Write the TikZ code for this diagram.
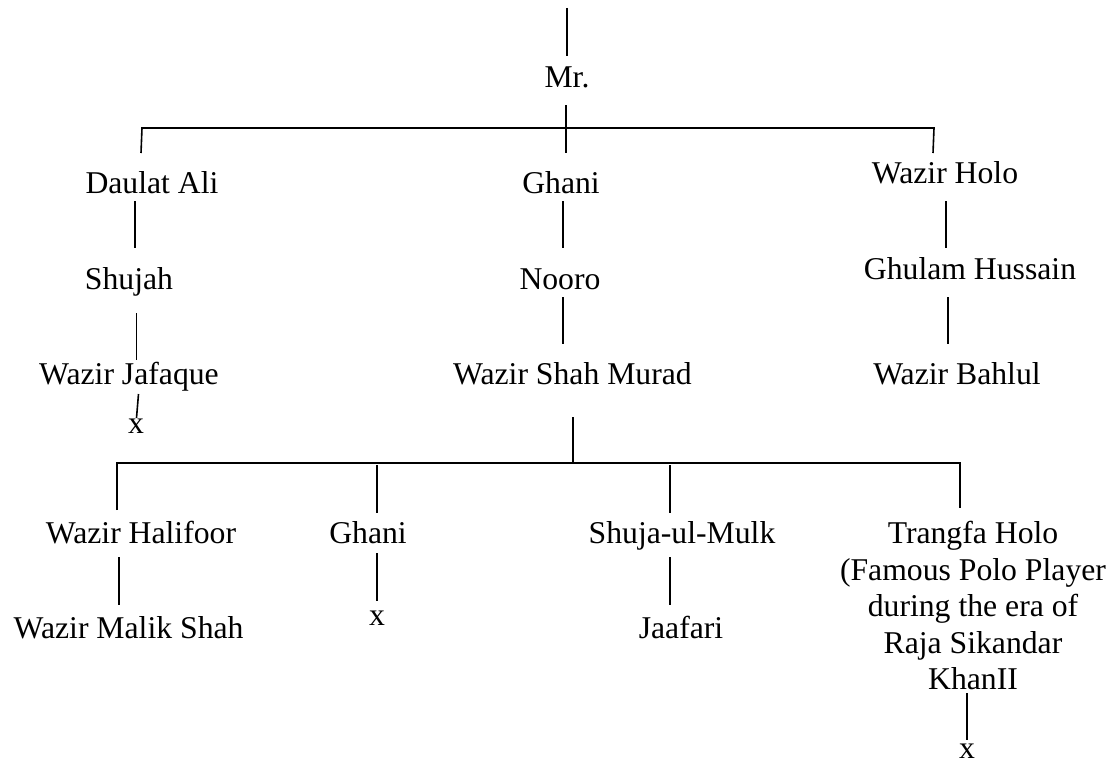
\documentclass[tikz,border=0pt]{standalone}
\usepackage{fontspec}
\setmainfont{Liberation Serif}
\begin{document}
\begin{tikzpicture}[x=1pt,y=-1pt,
  lbl/.style={anchor=base,inner sep=0pt,font=\fontsize{31.7}{36.5}\selectfont},
  ml/.style={anchor=north,inner sep=0pt,align=center,font=\fontsize{31.7}{36.5}\selectfont},
  ln/.style={line width=1.6pt}]
\useasboundingbox (0,0) rectangle (1115,760);
% text nodes
\node[lbl] (mr) at (567,87) {Mr.};
\node[lbl] (daulat) at (152,193) {Daulat Ali};
\node[lbl] (ghani) at (561,193) {Ghani};
\node[lbl] (wholo) at (945,183) {Wazir Holo};
\node[lbl] (shujah) at (129,289) {Shujah};
\node[lbl] (nooro) at (560,289) {Nooro};
\node[lbl] (ghulam) at (970,279) {Ghulam Hussain};
\node[lbl] (jafaque) at (129,384) {Wazir Jafaque};
\node[lbl] (murad) at (572.5,384) {Wazir Shah Murad};
\node[lbl] (bahlul) at (957,384) {Wazir Bahlul};
\node[lbl] (xa) at (136,433) {x};
\node[lbl] (halifoor) at (141,543) {Wazir Halifoor};
\node[lbl] (ghanib) at (368,543) {Ghani};
\node[lbl] (shuja) at (682,543) {Shuja-ul-Mulk};
\node[ml] (trangfa) at (973,521.3) {Trangfa Holo\\(Famous Polo Player\\during the era of\\Raja Sikandar\\KhanII};
\node[lbl] (malik) at (128.6,638) {Wazir Malik Shah};
\node[lbl] (xb) at (377,625) {x};
\node[lbl] (jaafari) at (681,638) {Jaafari};
\node[lbl] (xc) at (967,758) {x};
% connector end points
\coordinate (t0) at (567,8);   \coordinate (t1) at (567,56);
\coordinate (m0) at (566,105); \coordinate (m1) at (566,153);
\coordinate (h1l) at (142,128); \coordinate (h1r) at (934,128);
\coordinate (d1) at (141,153); \coordinate (d3) at (933,153);
\coordinate (a0) at (135,201); \coordinate (a1) at (135,248);
\coordinate (b0) at (136.5,313); \coordinate (b1) at (136.5,360);
\coordinate (c0) at (138.5,394); \coordinate (c1) at (136.5,418);
\coordinate (g0) at (563,201); \coordinate (g1) at (563,248);
\coordinate (n0) at (563,297); \coordinate (n1) at (563,344);
\coordinate (w0) at (946,201); \coordinate (w1) at (946,248);
\coordinate (u0) at (948,297); \coordinate (u1) at (948,344);
\coordinate (s0) at (573,417); \coordinate (s1) at (573,463);
\coordinate (h2l) at (117,463); \coordinate (h2r) at (960,463);
\coordinate (e1) at (117,510);
\coordinate (e2a) at (377,465); \coordinate (e2b) at (377,513);
\coordinate (e3a) at (670,465); \coordinate (e3b) at (670,513);
\coordinate (e4) at (960,508);
\coordinate (f0) at (119,557); \coordinate (f1) at (119,605);
\coordinate (k0) at (377,553); \coordinate (k1) at (377,601);
\coordinate (j0) at (670,557); \coordinate (j1) at (670,605);
\coordinate (r0) at (967,693); \coordinate (r1) at (967,740);
% connectors
\draw[ln] (t0) -- (t1);
\draw[ln] (m0) -- (m1);
\draw[ln] (d1) -- (h1l) -- (h1r) -- (d3);
\draw[ln] (a0) -- (a1);
\draw[ln] (b0) -- (b1);
\draw[ln] (c0) -- (c1);
\draw[ln] (g0) -- (g1);
\draw[ln] (n0) -- (n1);
\draw[ln] (w0) -- (w1);
\draw[ln] (u0) -- (u1);
\draw[ln] (s0) -- (s1);
\draw[ln] (e1) -- (h2l) -- (h2r) -- (e4);
\draw[ln] (e2a) -- (e2b);
\draw[ln] (e3a) -- (e3b);
\draw[ln] (f0) -- (f1);
\draw[ln] (k0) -- (k1);
\draw[ln] (j0) -- (j1);
\draw[ln] (r0) -- (r1);
\end{tikzpicture}
\end{document}
